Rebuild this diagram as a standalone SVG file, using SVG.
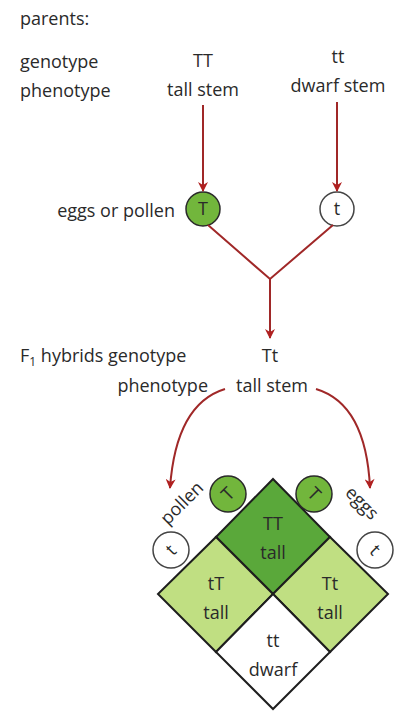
<svg xmlns="http://www.w3.org/2000/svg" width="398" height="712" viewBox="0 0 398 712">
<defs>
<marker id="ah" viewBox="0 0 10 10" refX="9" refY="5" markerWidth="11" markerHeight="10" markerUnits="userSpaceOnUse" orient="auto">
<path d="M0,0 L10,5 L0,10 L3,5 Z" fill="#b02020"/>
</marker>
<style>
text{font-family:"Open Sans","Noto Sans",sans-serif;font-size:18px;fill:#2a2a2a}
.c{text-anchor:middle}
.line{stroke:#a02828;stroke-width:2;fill:none}
.arr{marker-end:url(#ah)}
.gc{fill:#72b63c;stroke:#2a2a2a;stroke-width:1.5}
.wc{fill:#ffffff;stroke:#444;stroke-width:1.5}
.cell{stroke:#1e1e1e;stroke-width:2}
.sm{font-size:18px}
.ce{font-size:18px}
</style>
</defs>
<rect width="398" height="712" fill="#ffffff"/>
<g id="labels">
<text x="20" y="25">parents:</text>
<text x="20" y="68">genotype</text>
<text x="20" y="97">phenotype</text>
<text x="175" y="217" text-anchor="end">eggs or pollen</text>
<text x="20" y="362">F<tspan font-size="12" dy="4">1</tspan><tspan dy="-4"> hybrids genotype</tspan></text>
<text x="208" y="392" text-anchor="end">phenotype</text>
</g>
<g id="parent-TT">
<text class="c" x="203" y="67">TT</text>
<text class="c" x="203" y="96">tall stem</text>
</g>
<g id="parent-tt">
<text class="c" x="338" y="63">tt</text>
<text class="c" x="338" y="92">dwarf stem</text>
</g>
<g id="gamete-T">
<circle class="gc" cx="203" cy="209" r="17"/>
<text class="c sm" x="203" y="215">T</text>
</g>
<g id="gamete-t">
<circle class="wc" cx="337" cy="209" r="17"/>
<text class="c sm" x="337" y="215">t</text>
</g>
<g id="f1">
<text class="c" x="270" y="362">Tt</text>
<text class="c" x="272" y="392">tall stem</text>
</g>
<g id="connectors">
<line class="line arr" x1="203" y1="105" x2="203" y2="191"/>
<line class="line arr" x1="337" y1="102" x2="337" y2="191"/>
<polyline class="line" points="208,225 270,279 333,225"/>
<line class="line arr" x1="270" y1="279" x2="270" y2="338"/>
<path class="line arr" d="M225,389 Q176,404 170,488"/>
<path class="line arr" d="M316,389 Q366,404 370,488"/>
</g>
<g id="cell-TT">
<polygon class="cell" points="273,479 330,537 273,594 216,537" fill="#5aa83a"/>
<text class="c ce" x="273" y="530">TT</text>
<text class="c ce" x="273" y="559">tall</text>
</g>
<g id="cell-tT">
<polygon class="cell" points="216,537 273,594 216,652 158,594" fill="#c0df82"/>
<text class="c ce" x="216" y="590">tT</text>
<text class="c ce" x="216" y="619">tall</text>
</g>
<g id="cell-Tt">
<polygon class="cell" points="330,537 388,594 330,652 273,594" fill="#c0df82"/>
<text class="c ce" x="330" y="590">Tt</text>
<text class="c ce" x="330" y="619">tall</text>
</g>
<g id="cell-tt">
<polygon class="cell" points="273,594 330,652 273,709 216,652" fill="#ffffff"/>
<text class="c ce" x="273" y="647">tt</text>
<text class="c ce" x="273" y="676">dwarf</text>
</g>
<g id="pollen">
<text class="c" x="182" y="509" transform="rotate(-45 182 503)">pollen</text>
<g transform="rotate(-45 228 494)">
<circle class="gc" cx="228" cy="494" r="18"/>
<text class="c sm" x="228" y="500">T</text>
</g>
<g transform="rotate(-45 171 550)">
<circle class="wc" cx="171" cy="550" r="18"/>
<text class="c sm" x="171" y="556">t</text>
</g>
</g>
<g id="eggs">
<text class="c" x="362" y="509" transform="rotate(45 362 503)">eggs</text>
<g transform="rotate(45 314 494)">
<circle class="gc" cx="314" cy="494" r="18"/>
<text class="c sm" x="314" y="500">T</text>
</g>
<g transform="rotate(45 375 550)">
<circle class="wc" cx="375" cy="550" r="18"/>
<text class="c sm" x="375" y="556">t</text>
</g>
</g>
</svg>
